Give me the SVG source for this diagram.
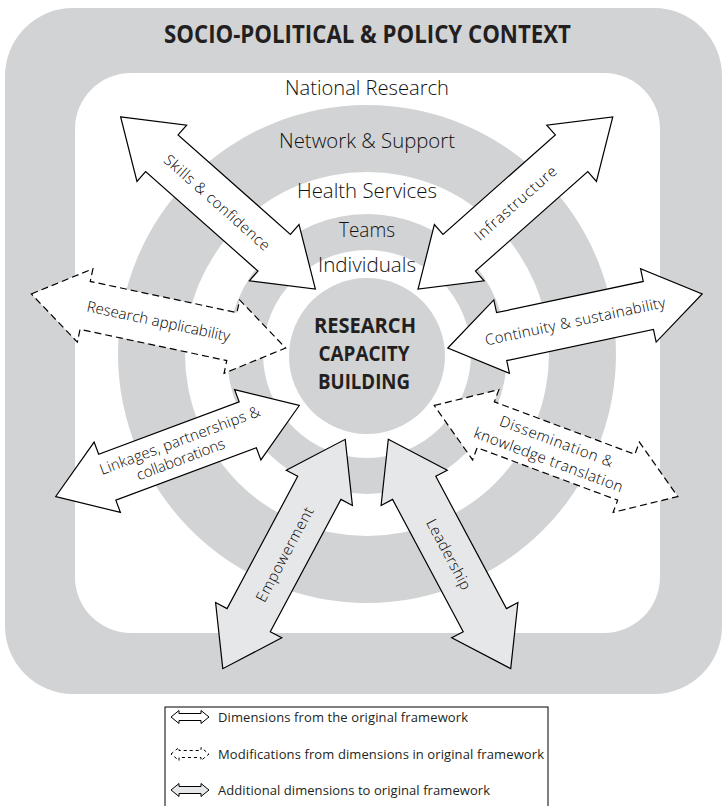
<svg xmlns="http://www.w3.org/2000/svg" width="723" height="806" viewBox="0 0 723 806">
<defs>
<style>
.bg{fill:#d1d3d4}
.wh{fill:#ffffff}
.t{font-family:"Open Sans","Liberation Sans",sans-serif;fill:#231f20}
.ring{font-size:21px;font-weight:300;text-anchor:middle;fill:#111}
.bold{font-weight:700;text-anchor:middle}
.al{font-size:15px;font-weight:300;text-anchor:middle;fill:#000}
.leg{font-size:13px;font-weight:400}
.a-orig{fill:#ffffff;stroke:#000;stroke-width:1.2;stroke-linejoin:miter}
.a-mod{fill:#ffffff;stroke:#000;stroke-width:1.2;stroke-dasharray:7 4}
.a-add{fill:#e6e7e8;stroke:#000;stroke-width:1.2;stroke-linejoin:miter}
.i-mod{fill:#ffffff;stroke:#000;stroke-width:1;stroke-dasharray:3 3}
.i-orig{fill:#ffffff;stroke:#000;stroke-width:1}
.i-add{fill:#e6e7e8;stroke:#000;stroke-width:1}
</style>
<polygon id="arr" points="-130,0 -75,-37.5 -75,-24.5 75,-24.5 75,-37.5 130,0 75,37.5 75,24.5 -75,24.5 -75,37.5"/>
<polygon id="ico" points="-19,0 -11,-6.5 -11,-3.5 11,-3.5 11,-6.5 19,0 11,6.5 11,3.5 -11,3.5 -11,6.5"/>
</defs>

<g id="context">
<rect class="bg" x="5" y="8" width="717" height="686" rx="68" ry="68"/>
<text class="t bold" x="367.5" y="43" font-size="25" textLength="407" lengthAdjust="spacingAndGlyphs">SOCIO-POLITICAL &amp; POLICY CONTEXT</text>
</g>

<g id="national-research">
<rect class="wh" x="75" y="73" width="585" height="560" rx="56" ry="56"/>
<text class="t ring" x="367" y="95" textLength="164" lengthAdjust="spacingAndGlyphs">National Research</text>
</g>

<g id="network-support">
<circle class="bg" cx="367" cy="354" r="249"/>
<text class="t ring" x="367" y="148" textLength="176" lengthAdjust="spacingAndGlyphs">Network &amp; Support</text>
</g>

<g id="health-services">
<circle class="wh" cx="367" cy="354" r="182"/>
<text class="t ring" x="367" y="198" textLength="140" lengthAdjust="spacingAndGlyphs">Health Services</text>
</g>

<g id="teams">
<circle class="bg" cx="367" cy="354" r="140"/>
<text class="t ring" x="367" y="237" textLength="56" lengthAdjust="spacingAndGlyphs">Teams</text>
</g>

<g id="individuals">
<circle class="wh" cx="367" cy="354" r="104"/>
<text class="t ring" x="367" y="272" textLength="98" lengthAdjust="spacingAndGlyphs">Individuals</text>
</g>

<g id="research-capacity-building">
<circle class="bg" cx="367" cy="356" r="78"/>
<text class="t bold" x="365" y="333" font-size="20.5" textLength="102" lengthAdjust="spacingAndGlyphs">RESEARCH</text>
<text class="t bold" x="364" y="361" font-size="20.5" textLength="91" lengthAdjust="spacingAndGlyphs">CAPACITY</text>
<text class="t bold" x="364" y="389" font-size="20.5" textLength="92" lengthAdjust="spacingAndGlyphs">BUILDING</text>
</g>

<g id="connectors">
<g id="skills" transform="translate(218,203) rotate(41.5)">
<use href="#arr" class="a-orig"/>
<text class="t al" x="-1" y="5.5" textLength="136">Skills &amp; confidence</text>
</g>
<g id="infrastructure" transform="translate(515.4,203) rotate(-41.5)">
<use href="#arr" class="a-orig"/>
<text class="t al" x="0" y="5.5" textLength="104">Infrastructure</text>
</g>
<g id="research-applicability" transform="translate(158.5,321) rotate(12)">
<use href="#arr" class="a-mod"/>
<text class="t al" x="0" y="5.5" textLength="146">Research applicability</text>
</g>
<g id="continuity" transform="translate(575,321) rotate(-12)">
<use href="#arr" class="a-orig"/>
<text class="t al" x="0" y="5.5" textLength="184">Continuity &amp; sustainability</text>
</g>
<g id="linkages" transform="translate(177.5,451) rotate(-20.5)">
<use href="#arr" class="a-orig"/>
<text class="t al" x="6" y="-4" textLength="170">Linkages, partnerships &amp;</text>
<text class="t al" x="0" y="14" textLength="93">collaborations</text>
</g>
<g id="dissemination" transform="translate(556,451) rotate(20.5)">
<use href="#arr" class="a-mod"/>
<text class="t al" x="-3" y="-4" textLength="120">Dissemination &amp;</text>
<text class="t al" x="-4" y="16" textLength="158">knowledge translation</text>
</g>
<g id="empowerment" transform="translate(284,554) rotate(-61.9)">
<use href="#arr" class="a-add"/>
<text class="t al" x="0" y="6" textLength="105">Empowerment</text>
</g>
<g id="leadership" transform="translate(449.5,554) rotate(61.9)">
<use href="#arr" class="a-add"/>
<text class="t al" x="0" y="6" textLength="78">Leadership</text>
</g>
</g>

<g id="legend">
<rect x="165" y="707" width="383" height="110" fill="#fff" stroke="#000" stroke-width="1"/>
<use href="#ico" class="i-orig" transform="translate(190,717)"/>
<text class="t leg" x="218" y="722" textLength="250">Dimensions from the original framework</text>
<use href="#ico" class="i-mod" transform="translate(190,754)"/>
<text class="t leg" x="218" y="759" textLength="326">Modifications from dimensions in original framework</text>
<use href="#ico" class="i-add" transform="translate(190,790)"/>
<text class="t leg" x="218" y="795" textLength="272">Additional dimensions to original framework</text>
</g>
</svg>
